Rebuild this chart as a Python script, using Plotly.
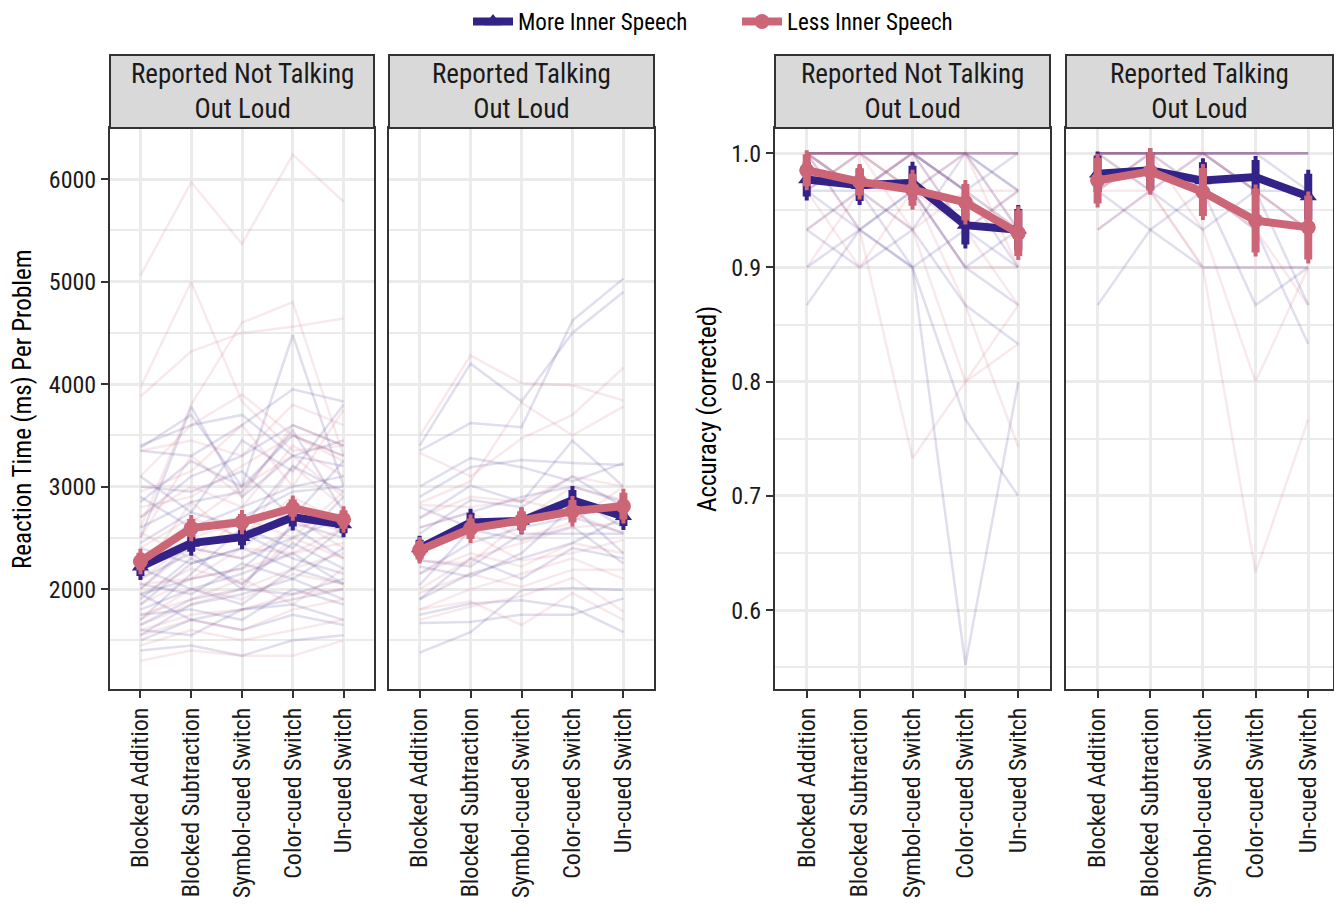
import plotly.graph_objects as go

conditions = ["Blocked Addition", "Blocked Subtraction", "Symbol-cued Switch",
              "Color-cued Switch", "Un-cued Switch"]
facets = ["Reported Not Talking<br>Out Loud", "Reported Talking<br>Out Loud"]
groups = ["More Inner Speech", "Less Inner Speech"]

# ---- group means and error (RT, ms) ----
rt_not_more = [2218, 2449, 2507, 2702, 2630]
rt_not_more_err = [90, 85, 80, 90, 85]
rt_not_less = [2270, 2595, 2654, 2790, 2680]
rt_not_less_err = [85, 90, 80, 85, 90]
rt_talk_more = [2397, 2650, 2665, 2868, 2710]
rt_talk_more_err = [85, 95, 90, 100, 95]
rt_talk_less = [2380, 2590, 2670, 2760, 2810]
rt_talk_less_err = [90, 100, 90, 110, 130]

# ---- group means and error (accuracy) ----
acc_not_more = [0.977, 0.972, 0.974, 0.937, 0.933]
acc_not_more_err = [0.015, 0.014, 0.015, 0.017, 0.018]
acc_not_less = [0.985, 0.975, 0.968, 0.957, 0.930]
acc_not_less_err = [0.014, 0.012, 0.014, 0.016, 0.020]
acc_talk_more = [0.982, 0.985, 0.976, 0.979, 0.962]
acc_talk_more_err = [0.016, 0.016, 0.016, 0.015, 0.020]
acc_talk_less = [0.976, 0.984, 0.966, 0.941, 0.935]
acc_talk_less_err = [0.020, 0.017, 0.021, 0.028, 0.028]

# ---- individual participants (RT) ----
rt_not_more_ind = [
    [3380, 3700, 3000, 4480, 3000], [3350, 3300, 3600, 3950, 3830],
    [2850, 3250, 3000, 3500, 3300], [2500, 3780, 2900, 3300, 3450],
    [3000, 2950, 3150, 2700, 3250], [2200, 2400, 2300, 2500, 2700],
    [2100, 2350, 2000, 2650, 2500], [1950, 2100, 2200, 2600, 2300],
    [1800, 2000, 1850, 2200, 2050], [2050, 1950, 2250, 2100, 2400],
    [1700, 2150, 2600, 2400, 2900], [1500, 1700, 1600, 1750, 1650],
    [1400, 1450, 1350, 1500, 1550], [2300, 2600, 2800, 3000, 3100],
    [1900, 2300, 2050, 2450, 2200], [2600, 2850, 2950, 3550, 2750],
    [1650, 1900, 2000, 1950, 2100], [2400, 2250, 2400, 2800, 2600],
    [1750, 1800, 1700, 2000, 1850], [3100, 2750, 3450, 3150, 3800],
    [2000, 2450, 2550, 2300, 2150], [1600, 1550, 1800, 1850, 1700],
    [2700, 3100, 3300, 3600, 3400], [1850, 2250, 2400, 2200, 2600],
    [2200, 2000, 2150, 2350, 2050], [1550, 1850, 1950, 2100, 1900],
    [2900, 2600, 2700, 2950, 3000], [3400, 3600, 3700, 3300, 3200],
    [1950, 1700, 1800, 1900, 2000], [2450, 2750, 2600, 3200, 2950],
]
rt_not_less_ind = [
    [5060, 5970, 5370, 6240, 5780], [3970, 5000, 3830, 3350, 3400],
    [3880, 4320, 4500, 4560, 4640], [2600, 3800, 4600, 4800, 3300],
    [3350, 3450, 3300, 3800, 3600], [2700, 3000, 2800, 3400, 3100],
    [2400, 2700, 2500, 2900, 2650], [2250, 2500, 2650, 2750, 2550],
    [2000, 2400, 2300, 2600, 2700], [1850, 2100, 2200, 2350, 2450],
    [1700, 2000, 1900, 2150, 2050], [1600, 1750, 1800, 1950, 2000],
    [1450, 1600, 1500, 1600, 1700], [1300, 1400, 1350, 1350, 1500],
    [2150, 2850, 2450, 3200, 2800], [2950, 3150, 3600, 3000, 3750],
    [1950, 2200, 2050, 2500, 2300], [2550, 2300, 2700, 2500, 2950],
    [1750, 1900, 2100, 1850, 2200], [2300, 2650, 3000, 3300, 2900],
    [2800, 2900, 3200, 3500, 3250], [1650, 1850, 2000, 2200, 2350],
    [2050, 2100, 2400, 2350, 2600], [2500, 3300, 2900, 3600, 3400],
    [1550, 1700, 1600, 1800, 1900], [3100, 3600, 3900, 3500, 3300],
    [2100, 2450, 2550, 2700, 2400],
]
rt_talk_more_ind = [
    [3400, 4200, 3830, 4500, 4900], [3350, 3620, 3580, 4620, 5030],
    [1380, 1580, 1990, 2010, 1990], [1750, 1860, 1890, 1820, 1580],
    [1670, 1680, 1750, 1750, 1910], [3000, 3280, 3190, 3050, 3230],
    [2900, 3190, 3260, 3230, 3210], [2690, 3010, 2850, 3450, 3000],
    [2220, 2120, 2350, 2800, 2350], [2040, 2580, 2480, 2610, 2250],
    [2540, 2870, 2800, 3100, 2800], [2280, 2220, 2540, 2540, 2540],
    [1900, 2150, 2300, 2450, 2700], [2800, 2600, 2700, 2900, 2600],
    [2600, 2750, 2900, 3000, 2850], [1900, 2300, 2100, 2400, 2300],
    [2150, 2450, 2600, 2700, 2550],
]
rt_talk_less_ind = [
    [3490, 4280, 4010, 3990, 3840], [3330, 3100, 3470, 3700, 4160],
    [2840, 3050, 3820, 3500, 3780], [1800, 1880, 1650, 1960, 1700],
    [1700, 1830, 1930, 2110, 1780], [2820, 2800, 2870, 2740, 2540],
    [2410, 2540, 2280, 2350, 2480], [1960, 2150, 2020, 2190, 2190],
    [2150, 2350, 2220, 2450, 2350], [2280, 2250, 2670, 3000, 2870],
    [2600, 2750, 2500, 2650, 3000], [1800, 2000, 2150, 2300, 2100],
    [2700, 2900, 2850, 3100, 3000], [2000, 2300, 2450, 2600, 2650],
]

# ---- individual participants (accuracy) ----
acc_not_more_ind = [
    [1, 1, 1, 1, 1], [1, 1, 1, 1, 1], [1, 1, 1, 1, 0.967],
    [1, 0.967, 1, 0.967, 0.933], [0.967, 1, 1, 0.933, 0.9],
    [0.933, 0.9, 0.933, 1, 0.967], [0.867, 0.933, 0.967, 0.9, 0.867],
    [1, 0.933, 0.9, 0.552, 0.8], [0.967, 0.967, 0.9, 0.767, 0.7],
    [1, 0.967, 0.933, 0.867, 0.833], [0.933, 0.967, 1, 0.967, 0.9],
    [1, 1, 0.967, 0.9, 0.933], [0.967, 0.933, 0.9, 0.933, 0.967],
    [1, 1, 1, 0.967, 1], [0.9, 0.933, 0.967, 1, 0.933],
]
acc_not_less_ind = [
    [1, 1, 1, 1, 1], [1, 1, 1, 1, 1], [1, 0.967, 1, 0.933, 0.967],
    [0.967, 1, 0.967, 1, 0.9], [0.9, 0.967, 0.933, 0.967, 0.933],
    [1, 0.933, 0.733, 0.8, 0.867], [0.967, 0.9, 0.967, 0.867, 0.743],
    [1, 1, 0.933, 0.8, 0.833], [0.933, 0.967, 1, 0.967, 0.967],
    [1, 0.967, 0.967, 0.933, 0.867], [0.967, 1, 1, 1, 0.933],
    [1, 1, 0.967, 0.9, 0.9],
]
acc_talk_more_ind = [
    [1, 1, 1, 1, 1], [1, 1, 1, 1, 1], [1, 1, 1, 1, 1],
    [0.867, 0.933, 0.967, 0.867, 0.9], [0.967, 0.933, 0.9, 0.9, 0.9],
    [1, 0.967, 0.933, 0.967, 0.933], [0.967, 1, 1, 1, 0.967],
    [1, 1, 0.967, 0.933, 0.833], [0.933, 0.967, 1, 0.967, 0.967],
    [1, 1, 1, 0.967, 0.867],
]
acc_talk_less_ind = [
    [1, 1, 1, 1, 1], [1, 1, 1, 1, 1], [0.933, 0.967, 1, 0.967, 0.933],
    [1, 0.967, 0.9, 0.633, 0.767], [0.967, 1, 0.933, 0.8, 0.9],
    [0.967, 0.967, 0.9, 0.9, 0.9], [1, 1, 0.967, 0.933, 0.867],
    [0.967, 1, 1, 0.967, 0.933],
]

y_titles = ["Reaction Time (ms) Per Problem", "Accuracy (corrected)"]

BLUE = "#332288"
PINK = "#CC6677"
BLUE_T = "rgba(51,34,136,0.15)"
PINK_T = "rgba(204,102,119,0.14)"
FONT = "Liberation Sans Narrow, Arial Narrow, Roboto Condensed, Liberation Sans, sans-serif"

# the page body has an 8px margin; work in window pixel coordinates
OFF = 8
W, H = 1342 - 2 * OFF, 910 - 2 * OFF
def px_x(v): return min(1.0, max(0.0, (v - OFF) / W))
def px_y(v): return min(1.0, max(0.0, 1 - (v - OFF) / H))

panel_x = [(110, 374), (389, 654), (775, 1050), (1066, 1333)]
panel_xrange = [[-0.6, 4.6], [-0.6, 4.6], [-0.6, 4.6], [-0.6, 4.47]]
plot_top, plot_bot = 128, 689
strip_top = 55

panels = [
    dict(ind=(rt_not_more_ind, rt_not_less_ind),
         mean=(rt_not_more, rt_not_less), err=(rt_not_more_err, rt_not_less_err),
         facet=facets[0], kind="rt"),
    dict(ind=(rt_talk_more_ind, rt_talk_less_ind),
         mean=(rt_talk_more, rt_talk_less), err=(rt_talk_more_err, rt_talk_less_err),
         facet=facets[1], kind="rt"),
    dict(ind=(acc_not_more_ind, acc_not_less_ind),
         mean=(acc_not_more, acc_not_less), err=(acc_not_more_err, acc_not_less_err),
         facet=facets[0], kind="acc"),
    dict(ind=(acc_talk_more_ind, acc_talk_less_ind),
         mean=(acc_talk_more, acc_talk_less), err=(acc_talk_more_err, acc_talk_less_err),
         facet=facets[1], kind="acc"),
]

xs = list(range(len(conditions)))
fig = go.Figure()
layout = {}
shapes = []
annotations = []

for i, p in enumerate(panels):
    n = i + 1
    xa = "x" if n == 1 else f"x{n}"
    ya = "y" if n == 1 else f"y{n}"
    for g, col in zip(range(2), [BLUE_T, PINK_T]):
        lx, ly = [], []
        for row in p["ind"][g]:
            lx += xs + [None]
            ly += row + [None]
        fig.add_trace(go.Scatter(x=lx, y=ly, mode="lines", xaxis=xa, yaxis=ya,
                                 line=dict(color=col, width=2.5), showlegend=False,
                                 hoverinfo="skip"))
    for g, (col, sym) in enumerate([(BLUE, "triangle-up"), (PINK, "circle")]):
        fig.add_trace(go.Scatter(
            x=xs, y=p["mean"][g], mode="lines+markers", xaxis=xa, yaxis=ya,
            name=groups[g], showlegend=(i == 0),
            line=dict(color=col, width=8),
            marker=dict(color=col, symbol=sym, size=15),
            error_y=dict(type="data", array=p["err"][g], color=col, thickness=8, width=2),
        ))
    x0, x1 = panel_x[i]
    dom_x = [px_x(x0), px_x(x1)]
    dom_y = [px_y(plot_bot), px_y(plot_top)]
    layout["xaxis" if n == 1 else f"xaxis{n}"] = dict(
        domain=dom_x, anchor=ya, range=panel_xrange[i], tickvals=xs, ticktext=conditions,
        tickangle=-90, showline=True, mirror=True, linecolor="#333333", linewidth=2,
        ticks="outside", ticklen=7, tickwidth=2, tickcolor="#333333",
        showgrid=True, gridcolor="#ebebeb", gridwidth=3, zeroline=False,
        tickfont=dict(family=FONT, size=24, color="#1a1a1a"), fixedrange=True)
    if p["kind"] == "rt":
        yr = [1025, 6500]; dt = 1000; mdt = 500; fmt = "d"
    else:
        yr = [0.531, 1.022]; dt = 0.1; mdt = 0.05; fmt = ".1f"
    show_lab = (i % 2 == 0)
    layout["yaxis" if n == 1 else f"yaxis{n}"] = dict(
        domain=dom_y, anchor=xa, range=yr, dtick=dt, tick0=0, tickformat=fmt,
        showline=True, mirror=True, linecolor="#333333", linewidth=2,
        ticks="outside" if show_lab else "", ticklen=7, tickwidth=2, tickcolor="#333333",
        showticklabels=show_lab,
        showgrid=True, gridcolor="#ebebeb", gridwidth=3, zeroline=False,
        minor=dict(dtick=mdt, tick0=0, showgrid=True, gridcolor="#ebebeb", gridwidth=1.5),
        tickfont=dict(family=FONT, size=24, color="#1a1a1a"),
        fixedrange=True)
    shapes.append(dict(type="rect", xref="paper", yref="paper",
                       x0=px_x(x0), x1=px_x(x1), y0=px_y(plot_top), y1=px_y(strip_top),
                       fillcolor="#d9d9d9", line=dict(color="#333333", width=2), layer="above"))
    annotations.append(dict(xref="paper", yref="paper", x=px_x((x0 + x1) / 2),
                            y=px_y((plot_top + strip_top) / 2), text=p["facet"],
                            showarrow=False, xanchor="center", yanchor="middle",
                            font=dict(family=FONT, size=27, color="#1a1a1a")))

# y-axis titles
for tx, txt in zip([22, 707], y_titles):
    annotations.append(dict(xref="paper", yref="paper", x=px_x(tx), y=px_y(409),
                            text=txt, textangle=-90, showarrow=False,
                            xanchor="center", yanchor="middle",
                            font=dict(family=FONT, size=25, color="#000")))

fig.update_layout(
    width=W, height=H, margin=dict(l=0, r=0, t=0, b=0, autoexpand=False),
    paper_bgcolor="white", plot_bgcolor="white",
    shapes=shapes, annotations=annotations,
    legend=dict(orientation="h", x=px_x(468), xanchor="left", y=1 + 8 / H, yanchor="top",
                font=dict(family=FONT, size=23, color="#000"),
                entrywidth=214, entrywidthmode="pixels", itemwidth=40),
    **layout,
)

fig.write_html("out.html")
